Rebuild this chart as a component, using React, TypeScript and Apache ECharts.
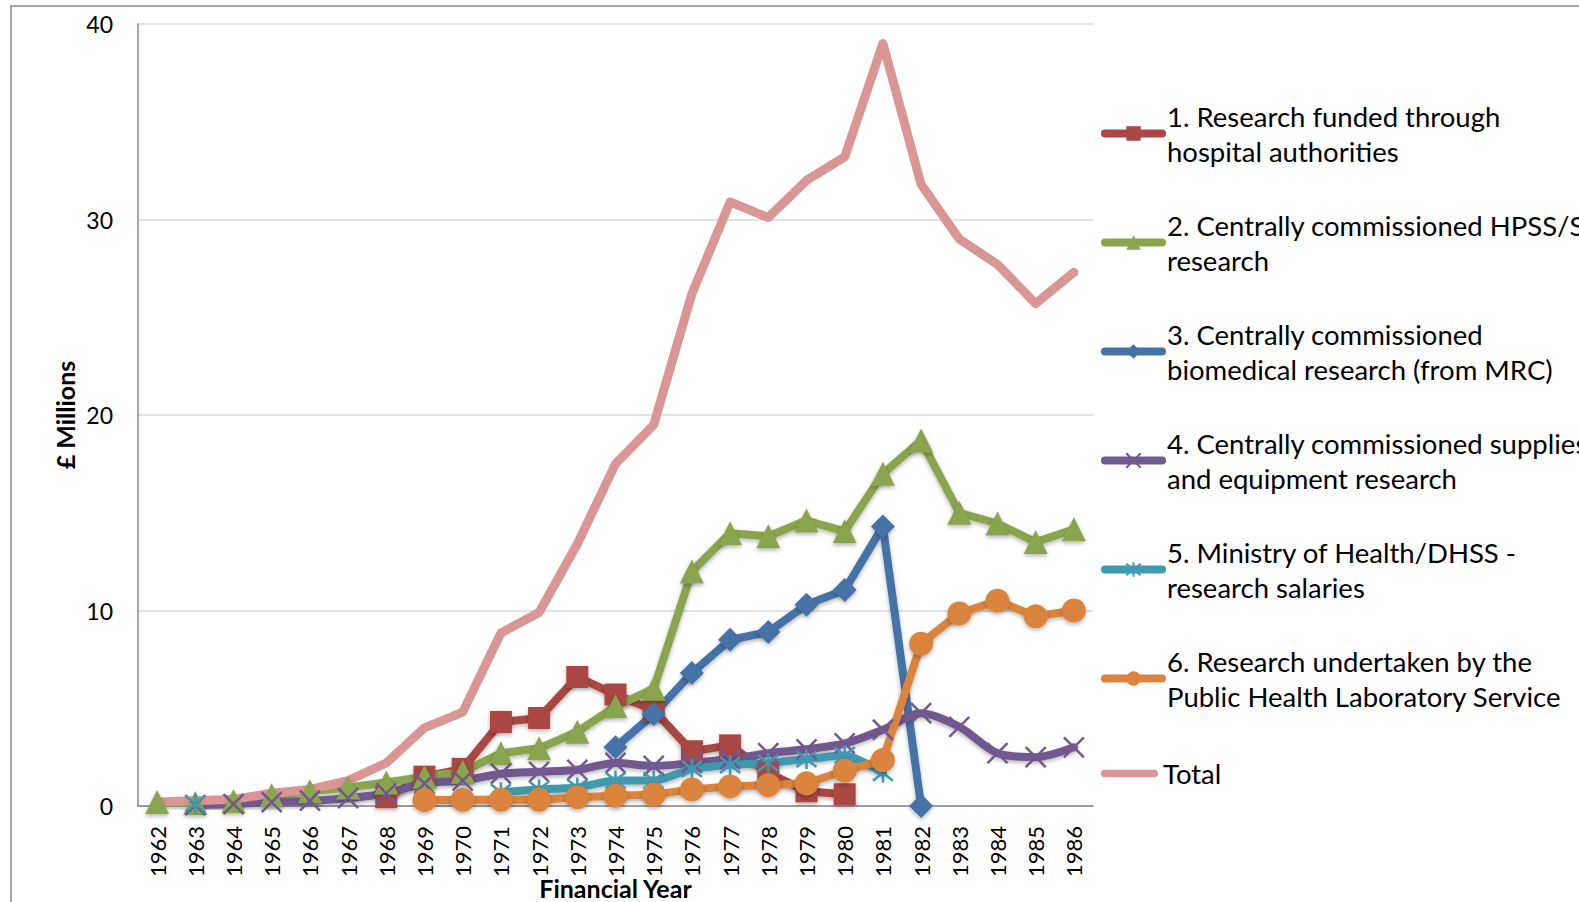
import React, { useEffect, useRef } from "react";
import * as echarts from "echarts";

const years = [
  "1962", "1963", "1964", "1965", "1966", "1967", "1968", "1969", "1970", "1971", "1972", "1973",
  "1974", "1975", "1976", "1977", "1978", "1979", "1980", "1981", "1982", "1983", "1984", "1985", "1986",
];

const seriesNames = [
  "1. Research funded through\nhospital authorities",
  "2. Centrally commissioned HPSS/SS\nresearch",
  "3. Centrally commissioned\nbiomedical research (from MRC)",
  "4. Centrally commissioned supplies\nand equipment research",
  "5. Ministry of Health/DHSS -\nresearch salaries",
  "6. Research undertaken by the\nPublic Health Laboratory Service",
  "Total",
];

const hospital = [null, null, null, null, null, null, 0.45, 1.5, 1.9, 4.3, 4.5, 6.6, 5.7, 4.9, 2.8, 3.1, 1.7, 0.75, 0.6, null, null, null, null, null, null];
const hpss = [0.2, 0.15, 0.25, 0.55, 0.75, 0.95, 1.2, 1.5, 1.75, 2.7, 2.95, 3.8, 5.1, 6.0, 12.0, 13.95, 13.8, 14.6, 14.05, 17.0, 18.7, 15.0, 14.45, 13.5, 14.15];
const mrc = [null, null, null, null, null, null, null, null, null, null, null, null, 3.0, 4.7, 6.8, 8.5, 8.9, 10.3, 11.05, 14.3, 0, null, null, null, null];
const supplies = [null, 0.05, 0.1, 0.2, 0.27, 0.4, 0.65, 1.15, 1.3, 1.65, 1.75, 1.85, 2.2, 2.05, 2.2, 2.4, 2.7, 2.9, 3.2, 3.9, 4.75, 4.05, 2.7, 2.5, 3.0];
const salaries = [null, 0.1, null, null, null, null, null, null, null, 0.7, 0.85, 0.95, 1.3, 1.3, 1.9, 2.1, 2.2, 2.4, 2.6, 1.7, null, null, null, null, null];
const phls = [null, null, null, null, null, null, null, 0.3, 0.32, 0.32, 0.32, 0.45, 0.52, 0.58, 0.85, 1.0, 1.07, 1.16, 1.8, 2.35, 8.3, 9.85, 10.5, 9.7, 10.0];
const total = [0.2, 0.27, 0.34, 0.65, 0.85, 1.3, 2.2, 4.0, 4.8, 8.85, 9.9, 13.4, 17.5, 19.5, 26.2, 30.9, 30.1, 32.0, 33.2, 39.0, 31.8, 29.0, 27.7, 25.7, 27.3];

const colors = ["#AA4643", "#89A54E", "#4572A7", "#71588F", "#4198AF", "#DB843D", "#D99694"];

const FONT = "Lato";

export default function App() {
  const ref = useRef<HTMLDivElement>(null);
  useEffect(() => {
    if (!ref.current) return;
    const chart = echarts.init(ref.current, null, { renderer: "svg" });
    const shadow = { shadowColor: "rgba(0,0,0,0.3)", shadowBlur: 4, shadowOffsetY: 2 };
    const mk = (i: number, data: (number | null)[], symbol: string, extra: any = {}) => ({
      name: seriesNames[i],
      type: "line",
      data,
      symbol,
      symbolSize: 22,
      connectNulls: false,
      color: colors[i],
      lineStyle: { width: 8, color: colors[i], join: "round", cap: "round", ...shadow },
      itemStyle: { color: colors[i], ...shadow },
      ...extra,
    });
    const xPath = "path://M0,0L20,20M20,0L0,20";
    const starPath = "path://M2,2L18,18M18,2L2,18M10,0L10,20";
    const legendCommon = {
      orient: "vertical",
      left: 1096,
      itemWidth: 57,
      itemHeight: 18,
      itemGap: 4,
      lineStyle: { width: 8, cap: "round" },
    };
    chart.setOption({
      animation: false,
      backgroundColor: "#fff",
      graphic: [
        {
          type: "rect",
          silent: true,
          z: -10,
          shape: { x: 11, y: 6, width: 1700, height: 1000 },
          style: { fill: "none", stroke: "#898989", lineWidth: 1.5 },
        },
      ],
      grid: { left: 138, right: 486, top: 24, bottom: 96, containLabel: false, outerBoundsMode: "none" },
      legend: [
        {
          ...legendCommon,
          top: 76,
          textStyle: { fontFamily: FONT, fontSize: 27.5, color: "#000", lineHeight: 35, padding: [35, 0, 0, 0] },
          data: seriesNames.slice(0, 6),
        },
        {
          ...legendCommon,
          top: 751,
          textStyle: { fontFamily: FONT, fontSize: 27.5, color: "#000", lineHeight: 35 },
          data: [
            {
              name: "Total",
              icon: "path://M4,0L56,0A4,4,0,0,1,56,8L4,8A4,4,0,0,1,4,0Z",
            },
          ],
        },
      ],
      xAxis: {
        type: "category",
        data: years,
        boundaryGap: true,
        name: "Financial Year",
        nameLocation: "middle",
        nameGap: 69,
        nameMoveOverlap: false,
        nameTextStyle: { fontFamily: FONT, fontWeight: "bold", fontSize: 25, color: "#000" },
        axisLine: { lineStyle: { color: "#868686", width: 1.5 } },
        axisTick: { show: false },
        axisLabel: { rotate: 90, interval: 0, fontFamily: FONT, fontSize: 22, color: "#000", margin: 20 },
      },
      yAxis: {
        type: "value",
        min: 0,
        max: 40,
        interval: 10,
        name: "£ Millions",
        nameLocation: "middle",
        nameGap: 61,
        nameMoveOverlap: false,
        nameTextStyle: { fontFamily: FONT, fontWeight: "bold", fontSize: 25, color: "#000" },
        axisLine: { show: true, lineStyle: { color: "#868686", width: 1.5 } },
        axisTick: { show: false },
        axisLabel: { fontFamily: FONT, fontSize: 23, color: "#000", margin: 25 },
        splitLine: { lineStyle: { color: "#D9D9D9", width: 1.5 } },
      },
      series: [
        mk(0, hospital, "rect"),
        mk(1, hpss, "triangle", { symbolSize: 24 }),
        mk(2, mrc, "diamond", { symbolSize: 24 }),
        mk(3, supplies, xPath, {
          smooth: 0.3,
          symbolSize: 20,
          itemStyle: { color: colors[3], borderColor: colors[3], borderWidth: 2.5 },
        }),
        mk(4, salaries, starPath, {
          smooth: 0.2,
          symbolSize: 20,
          itemStyle: { color: colors[4], borderColor: colors[4], borderWidth: 2.5 },
        }),
        mk(5, phls, "circle", { symbolSize: 24 }),
        mk(6, total, "none", { showSymbol: false, lineStyle: { width: 9, color: colors[6], join: "round", cap: "round" } }),
      ],
    });
    return () => chart.dispose();
  }, []);
  return <div ref={ref} style={{ position: "fixed", left: 0, top: 0, width: 1579, height: 902 }} />;
}
